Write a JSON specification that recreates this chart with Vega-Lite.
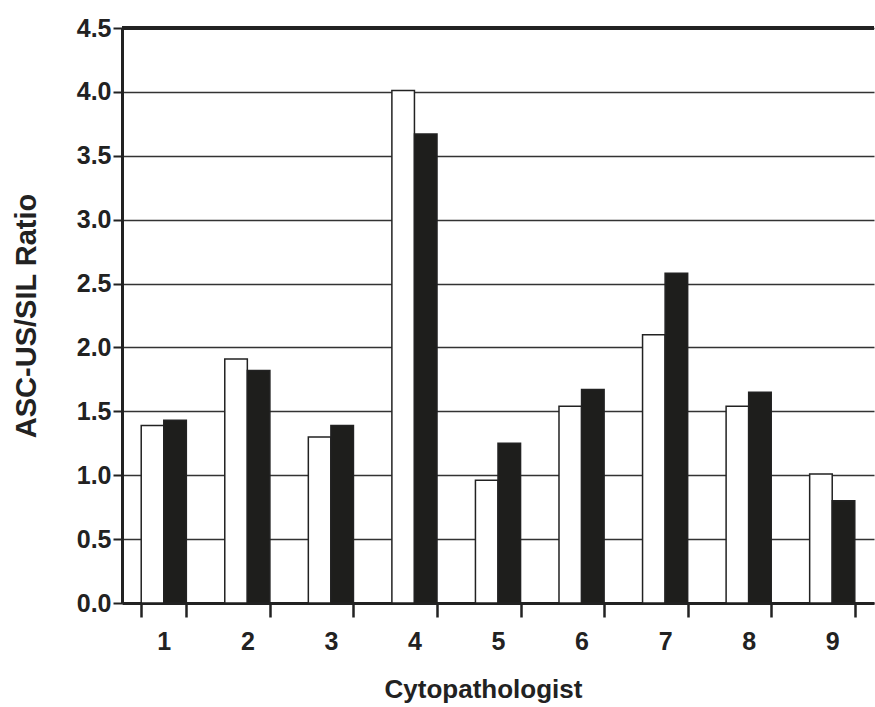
{
  "$schema": "https://vega.github.io/schema/vega-lite/v6.json",
  "width": 752,
  "height": 575,
  "autosize": "none",
  "padding": {"left": 122, "top": 28, "right": 1, "bottom": 104},
  "background": "white",
  "config": {"view": {"stroke": null}, "font": "Liberation Sans"},
  "data": {"values": [
    {"doc": "1", "series": "A", "ratio": 1.39},
    {"doc": "1", "series": "B", "ratio": 1.43},
    {"doc": "2", "series": "A", "ratio": 1.91},
    {"doc": "2", "series": "B", "ratio": 1.82},
    {"doc": "3", "series": "A", "ratio": 1.30},
    {"doc": "3", "series": "B", "ratio": 1.39},
    {"doc": "4", "series": "A", "ratio": 4.01},
    {"doc": "4", "series": "B", "ratio": 3.67},
    {"doc": "5", "series": "A", "ratio": 0.96},
    {"doc": "5", "series": "B", "ratio": 1.25},
    {"doc": "6", "series": "A", "ratio": 1.54},
    {"doc": "6", "series": "B", "ratio": 1.67},
    {"doc": "7", "series": "A", "ratio": 2.10},
    {"doc": "7", "series": "B", "ratio": 2.58},
    {"doc": "8", "series": "A", "ratio": 1.54},
    {"doc": "8", "series": "B", "ratio": 1.65},
    {"doc": "9", "series": "A", "ratio": 1.01},
    {"doc": "9", "series": "B", "ratio": 0.80}
  ]},
  "layer": [
    {
      "mark": {"type": "bar", "stroke": "#222", "strokeWidth": 1.5},
      "encoding": {
        "x": {
          "field": "doc", "type": "ordinal",
          "scale": {"paddingInner": 0.46, "paddingOuter": 0.23},
          "axis": {
            "title": "Cytopathologist",
            "titleFontSize": 26, "titleFontWeight": "bold", "titleColor": "#222", "titlePadding": 22,
            "titleX": 361,
            "labelAngle": 0, "labelFontSize": 25, "labelFontWeight": "bold", "labelColor": "#222",
            "labelPadding": 12,
            "tickBand": "extent", "tickSize": 14, "tickWidth": 2.5, "tickColor": "#222",
            "domainColor": "#222", "domainWidth": 3, "grid": false
          }
        },
        "xOffset": {"field": "series", "type": "nominal", "scale": {"paddingInner": 0}},
        "y": {
          "field": "ratio", "type": "quantitative",
          "scale": {"domain": [0, 4.5], "nice": false},
          "axis": {
            "title": "ASC-US/SIL Ratio",
            "titleFontSize": 29, "titleFontWeight": "bold", "titleColor": "#222", "titlePadding": 35,
            "values": [0, 0.5, 1, 1.5, 2, 2.5, 3, 3.5, 4, 4.5],
            "format": ".1f",
            "labelFontSize": 25, "labelFontWeight": "bold", "labelColor": "#222", "labelPadding": 2,
            "tickSize": 9, "tickWidth": 2, "tickColor": "#222",
            "domainColor": "#222", "domainWidth": 3,
            "grid": true, "gridColor": "#333", "gridWidth": 1.5
          }
        },
        "fill": {
          "field": "series", "type": "nominal",
          "scale": {"domain": ["A", "B"], "range": ["white", "#1e1e1c"]},
          "legend": null
        }
      }
    },
    {
      "mark": {"type": "rule", "color": "#222", "strokeWidth": 3},
      "encoding": {"y": {"datum": 4.5}}
    }
  ]
}
